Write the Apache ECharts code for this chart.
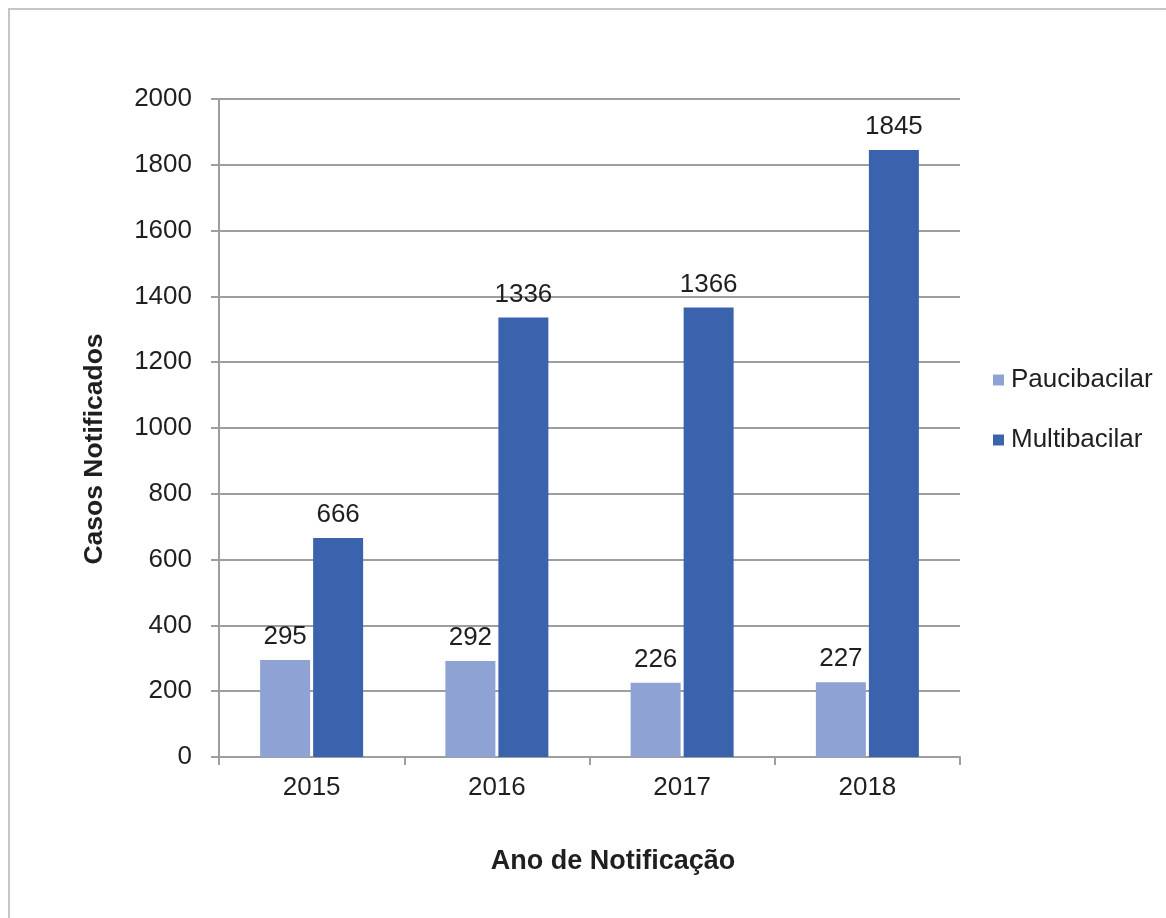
<!DOCTYPE html>
<html>
<head>
<meta charset="utf-8">
<script src="https://cdn.jsdelivr.net/npm/echarts@6/dist/echarts.min.js"></script>
<style>
  html, body { margin: 0; padding: 0; background: #ffffff; }
  #chart { width: 1166px; height: 918px; }
</style>
</head>
<body>
<div id="chart"></div>
<script>
// Casos notificados por ano e classificação operacional
const years = ['2015', '2016', '2017', '2018'];
const paucibacilar = [295, 292, 226, 227];
const multibacilar = [666, 1336, 1366, 1845];

const FONT = '"Liberation Sans", Arial, sans-serif';
const TEXT = '#1f1f1f';
const GRID = '#9e9e9e';

const chart = echarts.init(document.getElementById('chart'), null, { renderer: 'canvas' });

const barLabel = {
  show: true,
  position: 'top',
  distance: 10,
  color: TEXT,
  fontFamily: FONT,
  fontSize: 26
};

chart.setOption({
  backgroundColor: '#ffffff',
  animation: false,
  textStyle: { fontFamily: FONT },
  grid: { left: 219, right: 206, top: 99, bottom: 161, containLabel: false },
  legend: {
    orient: 'vertical',
    left: 988,
    top: 362,
    itemWidth: 11,
    itemHeight: 11,
    itemGap: 34,
    icon: 'rect',
    textStyle: { color: TEXT, fontFamily: FONT, fontSize: 26, padding: [0, 0, 0, 2] },
    data: ['Paucibacilar', 'Multibacilar']
  },
  xAxis: {
    type: 'category',
    data: years,
    boundaryGap: true,
    axisLine: { show: true, lineStyle: { color: GRID, width: 2 } },
    axisTick: { show: true, length: 8, alignWithLabel: false, lineStyle: { color: GRID, width: 2 } },
    axisLabel: { color: TEXT, fontFamily: FONT, fontSize: 26, margin: 18 }
  },
  yAxis: {
    type: 'value',
    min: 0,
    max: 2000,
    interval: 200,
    axisLine: { show: true, lineStyle: { color: GRID, width: 2 } },
    axisTick: { show: true, inside: false, length: 8, lineStyle: { color: GRID, width: 2 } },
    splitLine: { show: true, lineStyle: { color: GRID, width: 2 } },
    axisLabel: {
      color: TEXT,
      fontFamily: FONT,
      fontSize: 26,
      margin: 27,
      formatter: (v) => String(v)
    }
  },
  graphic: [
    {
      type: 'rect',
      silent: true,
      shape: { x: 9, y: 9, width: 1400, height: 1200 },
      style: { fill: 'none', stroke: '#c6c6c6', lineWidth: 2 }
    },
    {
      // vertical axis title
      type: 'text',
      silent: true,
      x: 95,
      y: 449,
      rotation: Math.PI / 2,
      style: {
        text: 'Casos Notificados',
        align: 'center',
        verticalAlign: 'middle',
        fill: TEXT,
        font: 'bold 26.5px ' + FONT
      }
    },
    {
      // horizontal axis title
      type: 'text',
      silent: true,
      x: 613,
      y: 862,
      style: {
        text: 'Ano de Notificação',
        align: 'center',
        verticalAlign: 'middle',
        fill: TEXT,
        font: 'bold 27px ' + FONT
      }
    }
  ],
  series: [
    {
      name: 'Paucibacilar',
      type: 'bar',
      data: paucibacilar,
      barWidth: 50,
      barGap: '6%',
      itemStyle: { color: '#8ea2d3' },
      label: barLabel
    },
    {
      name: 'Multibacilar',
      type: 'bar',
      data: multibacilar,
      barWidth: 50,
      barGap: '6%',
      itemStyle: { color: '#3b63ad' },
      label: barLabel
    }
  ]
});
</script>
</body>
</html>
